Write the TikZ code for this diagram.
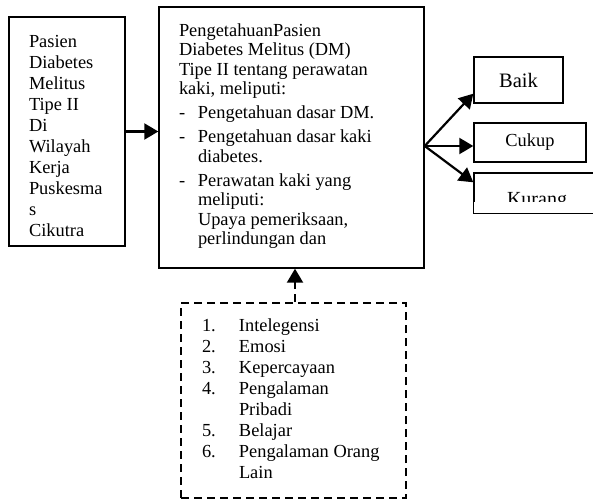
\documentclass[tikz,border=0pt]{standalone}
\usepackage{fontspec}
\setmainfont{Liberation Serif}
\usetikzlibrary{arrows.meta}

\begin{document}
\begin{tikzpicture}[x=1pt, y=1pt,
  box/.style={draw, line width=1.4pt, inner sep=0pt},
  arr/.style={line width=2.2pt, -{Triangle[length=14pt,width=16pt]}}]
\useasboundingbox (0,0) rectangle (593,-500);
\node (pasien)[box, minimum width=116pt, minimum height=229pt, font=\fontsize{18.4}{21}\selectfont] at (67,-131.5) {\raisebox{-6.5pt}[\height][\depth]{%
  \begin{tabular}{@{}p{76pt}@{}}
  Pasien\\ Diabetes\\ Melitus\\ Tipe II\\ Di\\ Wilayah\\ Kerja\\ Puskesma\\ s\\ Cikutra
  \end{tabular}}};
\node (pengetahuan)[box, minimum width=265pt, minimum height=261pt, font=\fontsize{18.4}{19.5}\selectfont] at (291.5,-137.5) {\raisebox{1pt}[\height][\depth]{%
  \begin{tabular}{@{}p{19pt}@{}p{206pt}@{}}
  \multicolumn{2}{@{}l@{}}{PengetahuanPasien}\\
  \multicolumn{2}{@{}l@{}}{Diabetes Melitus (DM)}\\
  \multicolumn{2}{@{}l@{}}{Tipe II tentang perawatan}\\
  \multicolumn{2}{@{}l@{}}{kaki, meliputi:}\\[4.5pt]
  - & Pengetahuan dasar DM.\\[4.5pt]
  - & Pengetahuan dasar kaki\\
    & diabetes.\\[4.5pt]
  - & Perawatan kaki yang\\
    & meliputi:\\
    & Upaya pemeriksaan,\\
    & perlindungan dan
  \end{tabular}}};
\node (baik)[box, minimum width=89pt, minimum height=46pt, font=\fontsize{20.5}{24}\selectfont] at (518.5,-80) {Baik};
\node (cukup)[box, minimum width=112pt, minimum height=39pt, font=\fontsize{18.4}{22}\selectfont] at (530,-142.5) {Cukup};
\node (kurang)[box, minimum width=126pt, minimum height=40pt, font=\fontsize{20}{24}\selectfont] at (537,-193) {\raisebox{-7.6pt}[13.2pt][4.4pt]{Kurang}};
\fill[white] ([shift={(0.8pt,0.8pt)}]kurang.south west) rectangle ([yshift=12pt]kurang.south east);
\node (faktor)[box, dash pattern=on 8pt off 5pt, line width=1.7pt, minimum width=225pt, minimum height=195pt] at (293.5,-400.5) {\fontsize{18.4}{21}\selectfont
  \begin{tabular}{@{}p{37pt}@{}p{146pt}@{}}
  1. & Intelegensi\\
  2. & Emosi\\
  3. & Kepercayaan\\
  4. & Pengalaman\\
     & Pribadi\\
  5. & Belajar\\
  6. & Pengalaman Orang\\
     & Lain
  \end{tabular}};
\coordinate (fan) at ([yshift=-8.5pt]pengetahuan.east);
\draw[arr] (pasien.east) -- (pasien.east -| pengetahuan.west);
\draw[arr] (fan) -- ([yshift=10pt]baik.south west);
\draw[arr] (fan) -- (fan -| cukup.west);
\draw[arr] (fan) -- ([yshift=-10pt]kurang.north west);
\draw[arr, dash pattern=on 8pt off 5pt] ([xshift=1.5pt]faktor.north) -- ([xshift=1.5pt]faktor.north |- pengetahuan.south);
\end{tikzpicture}
\end{document}
